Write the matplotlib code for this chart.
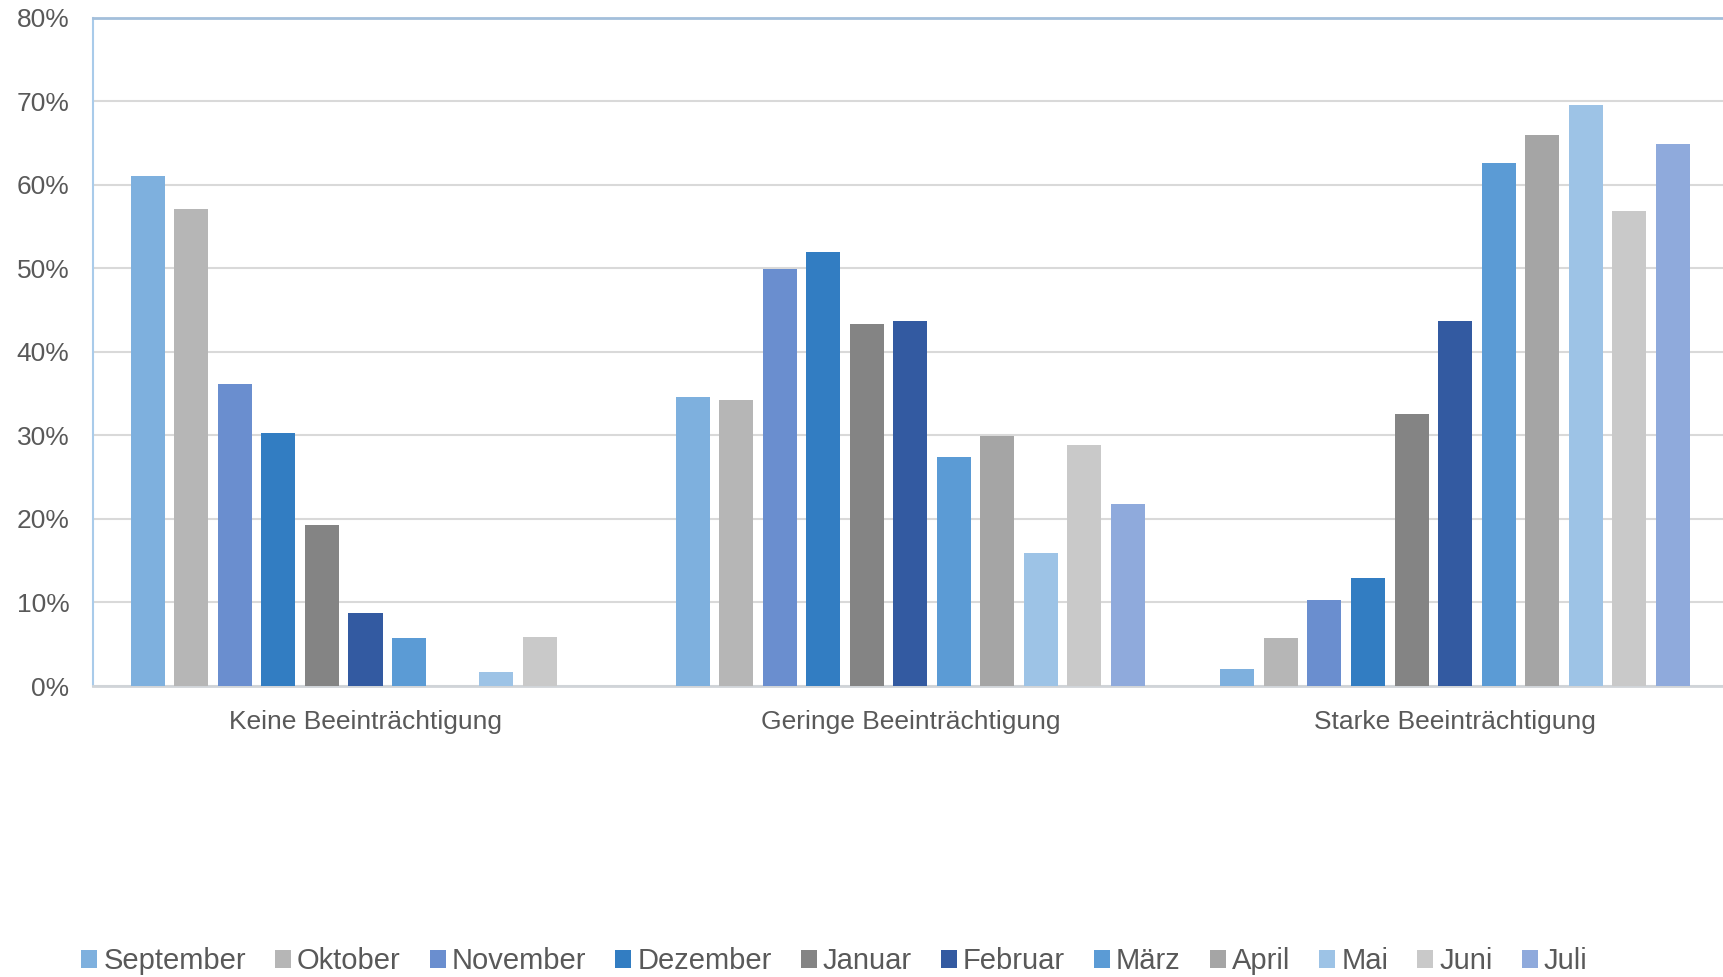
import matplotlib.pyplot as plt
import numpy as np

# Categories and monthly series (share of respondents, %)
categories = ['Keine Beeinträchtigung', 'Geringe Beeinträchtigung', 'Starke Beeinträchtigung']
months = ['September', 'Oktober', 'November', 'Dezember', 'Januar', 'Februar',
          'März', 'April', 'Mai', 'Juni', 'Juli']

september = [61.1, 34.6, 2.0]
oktober = [57.1, 34.2, 5.7]
november = [36.1, 49.9, 10.3]
dezember = [30.3, 52.0, 12.9]
januar = [19.3, 43.3, 32.5]
februar = [8.7, 43.7, 43.7]
maerz = [5.8, 27.4, 62.6]
april = [0.0, 29.9, 65.9]
mai = [1.7, 15.9, 69.5]
juni = [5.9, 28.9, 56.8]
juli = [0.0, 21.8, 64.9]

series = [september, oktober, november, dezember, januar, februar,
          maerz, april, mai, juni, juli]
colors = ['#7EB0DE', '#B6B6B6', '#6A8ECF', '#327DC2', '#848484', '#335AA1',
          '#5B9BD5', '#A5A5A5', '#9DC3E6', '#C9C9C9', '#8FAADC']

plt.rcParams['font.family'] = ['Liberation Sans', 'DejaVu Sans']
text_color = '#595959'

fig = plt.figure(figsize=(17.24, 9.77), dpi=100)
ax = fig.add_axes([0.054, 0.2978, 0.948, 0.6842])

x = np.arange(len(categories))
pitch = 0.0799
width = 0.0625
for i, (vals, name, col) in enumerate(zip(series, months, colors)):
    offset = (i - (len(series) - 1) / 2) * pitch
    ax.bar(x + offset, vals, width=width, color=col, label=name, zorder=3)

ax.set_xlim(-0.5, 2.5)
ax.set_ylim(0, 80)
ax.set_yticks(range(0, 81, 10))
ax.set_yticklabels([f'{v}%' for v in range(0, 81, 10)])
ax.set_xticks(x)
ax.set_xticklabels(categories)

ax.grid(axis='y', color='#D9D9D9', linewidth=1.5, zorder=0)
ax.tick_params(axis='y', length=0, pad=17, labelsize=19, labelcolor=text_color)
ax.tick_params(axis='x', length=0, pad=17, labelsize=19, labelcolor=text_color)

ax.spines['left'].set_color('#A9CBEA')
ax.spines['left'].set_linewidth(1.5)
ax.spines['top'].set_color('#A3BFDB')
ax.spines['top'].set_linewidth(2)
ax.spines['bottom'].set_color('#D0D4D8')
ax.spines['bottom'].set_linewidth(2)
ax.spines['right'].set_visible(False)

fig.legend(loc='center', bbox_to_anchor=(0.484, 0.016), ncol=len(months),
           frameon=False, fontsize=21, labelcolor=text_color,
           handlelength=0.55, handleheight=0.55, handletextpad=0.2,
           columnspacing=1.0)

fig.savefig('out.png', dpi=100)
